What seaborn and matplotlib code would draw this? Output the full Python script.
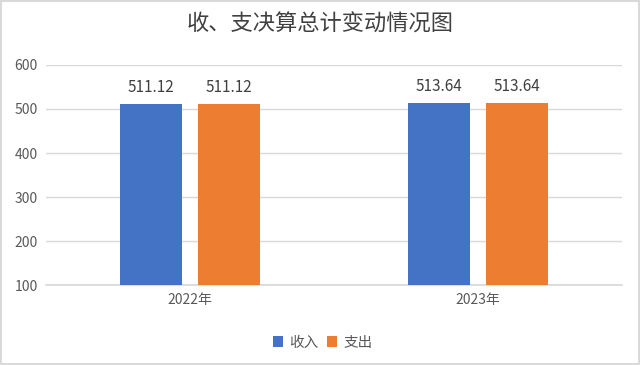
import matplotlib
matplotlib.use('Agg')
import matplotlib.pyplot as plt
import seaborn as sns
import pandas as pd
from matplotlib.patches import Rectangle

years = ['2022年', '2023年']
series = ['收入', '支出']
income = [511.12, 513.64]
expense = [511.12, 513.64]
colors = ['#4472C4', '#ED7D31']

sns.set_theme(style='white')
plt.rcParams['font.family'] = ['Noto Sans CJK SC', 'DejaVu Sans']

df = pd.DataFrame({
    'year': years * 2,
    'kind': [series[0]] * 2 + [series[1]] * 2,
    'value': income + expense,
})

fig = plt.figure(figsize=(6.4, 3.65), dpi=100)
ax = fig.add_axes([0.072, 0.219, 0.9, 0.603])

sns.barplot(data=df, x='year', y='value', hue='kind', palette=colors,
            saturation=1, linewidth=0, width=0.54, gap=0.2, ax=ax, zorder=3)

ax.set_ylim(100, 600)
ax.set_yticks(range(100, 601, 100))
ax.yaxis.grid(True, color='#D9D9D9', linewidth=1, zorder=0)
ax.set_axisbelow(True)
for s in ['top', 'right', 'left']:
    ax.spines[s].set_visible(False)
ax.spines['bottom'].set_color('#D9D9D9')
ax.set_xlabel('')
ax.set_ylabel('')
ax.tick_params(axis='both', length=0, labelsize=10, colors='#595959', pad=6)

for c in ax.containers:
    ax.bar_label(c, fmt='%.2f', padding=6, fontsize=11, color='#404040')

ax.legend(loc='upper center', bbox_to_anchor=(0.48, -0.17), ncol=2, frameon=False,
          fontsize=10.5, handlelength=0.7, handleheight=0.7, handletextpad=0.4,
          columnspacing=0.6, labelcolor='#595959')

fig.text(0.5, 0.935, '收、支决算总计变动情况图', ha='center', va='center',
         fontsize=16, color='#404040')

fig.patches.append(Rectangle((0.002, 0.003), 0.996, 0.994, transform=fig.transFigure,
                             fill=False, edgecolor='#D9D9D9', linewidth=1.5))

fig.savefig('out.png', dpi=100)
